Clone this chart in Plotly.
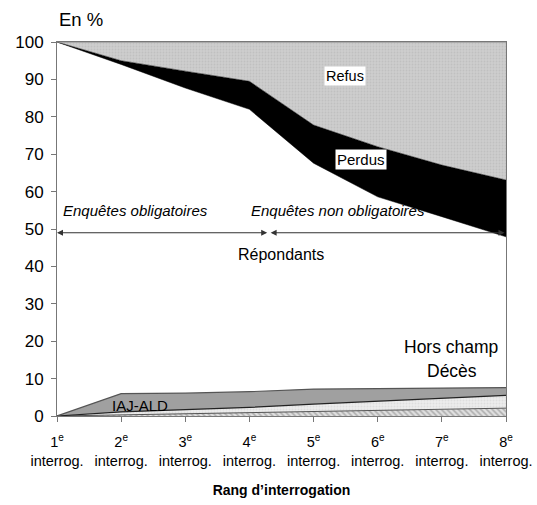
import plotly.graph_objects as go

x_vals = [1, 2, 3, 4, 5, 6, 7, 8]
x_labels = [f"{i}<sup><span style='font-size:10px'>e</span></sup><br>interrog." for i in range(1, 9)]

# cumulative boundaries (in %)
repondants_top = [100, 94, 87.7, 82, 67.6, 58.6, 53.3, 47.9]
perdus_top = [100, 95, 92.2, 89.5, 77.8, 72.0, 67.1, 63.1]
refus_top = [100, 100, 100, 100, 100, 100, 100, 100]
deces_top = [0, 0.3, 0.6, 0.9, 1.2, 1.4, 1.7, 2.1]
hors_champ_top = [0, 1.1, 1.7, 2.3, 3.2, 3.9, 4.7, 5.5]
iaj_ald_top = [0, 6.0, 6.1, 6.5, 7.2, 7.3, 7.5, 7.6]

fig = go.Figure()

# Upper block: répondants boundary, perdus, refus
fig.add_trace(go.Scatter(x=x_vals, y=repondants_top, mode="lines",
                         line=dict(color="black", width=0.5), showlegend=False, hoverinfo="skip"))
fig.add_trace(go.Scatter(x=x_vals, y=perdus_top, mode="lines", fill="tonexty",
                         fillcolor="black", line=dict(color="black", width=0.5),
                         showlegend=False, hoverinfo="skip"))
fig.add_trace(go.Scatter(x=x_vals, y=refus_top, mode="lines", fill="tonexty",
                         fillcolor="#c6c6c6",
                         fillpattern=dict(shape=".", fgcolor="#b4b4b4", bgcolor="#cdcdcd", size=3, solidity=0.3),
                         line=dict(color="#888888", width=1),
                         showlegend=False, hoverinfo="skip"))

# Lower block: décès, hors champ, IAJ-ALD
fig.add_trace(go.Scatter(x=x_vals, y=deces_top, mode="lines", fill="tozeroy",
                         fillpattern=dict(shape="\\", fgcolor="#7a7a7a", bgcolor="#e0e0e0", size=4, solidity=0.4),
                         line=dict(color="#555555", width=1),
                         showlegend=False, hoverinfo="skip"))
fig.add_trace(go.Scatter(x=x_vals, y=hors_champ_top, mode="lines", fill="tonexty",
                         fillpattern=dict(shape=".", fgcolor="#cfcfcf", bgcolor="#ececec", size=3, solidity=0.3),
                         line=dict(color="#222222", width=1.2),
                         showlegend=False, hoverinfo="skip"))
fig.add_trace(go.Scatter(x=x_vals, y=iaj_ald_top, mode="lines", fill="tonexty",
                         fillcolor="#a0a0a0", line=dict(color="#555555", width=1.2),
                         showlegend=False, hoverinfo="skip"))

font_main = "Liberation Sans, Arial, sans-serif"

annotations = [
    dict(x=0, y=1.0, xref="paper", yref="paper", text="En %", showarrow=False,
         xanchor="left", yanchor="bottom", yshift=10, font=dict(size=18.5, color="black")),
    dict(x=5.49, y=90.9, text="Refus", showarrow=False, bgcolor="white",
         font=dict(size=14.5, color="black"), borderpad=1),
    dict(x=5.74, y=68.7, text="Perdus", showarrow=False, bgcolor="white",
         font=dict(size=15, color="black"), borderpad=1),
    dict(x=1.07, y=55.0, text="<i>Enquêtes obligatoires</i>", showarrow=False,
         xanchor="left", font=dict(size=15, color="black")),
    dict(x=4.0, y=55.0, text="<i>Enquêtes non obligatoires</i>", showarrow=False,
         xanchor="left", font=dict(size=15, color="black")),
    dict(x=4.49, y=43.2, text="Répondants", showarrow=False,
         font=dict(size=16, color="black")),
    dict(x=2.3, y=2.9, text="IAJ-ALD", showarrow=False,
         font=dict(size=15, color="black")),
    dict(x=7.14, y=18.4, text="Hors champ", showarrow=False,
         font=dict(size=17.5, color="black")),
    dict(x=7.16, y=12.0, text="Décès", showarrow=False,
         font=dict(size=17.5, color="black")),
    # arrows
    dict(x=1.0, y=49, ax=4.3, ay=49, xref="x", yref="y", axref="x", ayref="y",
         text="", showarrow=True, arrowhead=2, arrowside="end+start", arrowsize=1,
         arrowwidth=1.2, arrowcolor="#333333"),
    dict(x=4.33, y=49, ax=8.0, ay=49, xref="x", yref="y", axref="x", ayref="y",
         text="", showarrow=True, arrowhead=2, arrowside="end+start", arrowsize=1,
         arrowwidth=1.2, arrowcolor="#333333"),
]

fig.update_layout(
    width=537, height=505,
    margin=dict(l=57, r=31, t=42, b=89),
    paper_bgcolor="white", plot_bgcolor="white",
    font=dict(family=font_main, color="black"),
    annotations=annotations,
    xaxis=dict(
        range=[1, 8], tickmode="array", tickvals=x_vals, ticktext=x_labels,
        automargin=False,
        showgrid=False, zeroline=False, showline=True, linecolor="#777777", linewidth=1,
        mirror=True, ticks="outside", ticklen=5, tickcolor="#777777",
        ticklabelstandoff=8,
        tickfont=dict(size=14.5, color="black"),
        title=dict(text="<b>Rang d’interrogation</b>", font=dict(size=14, color="black"), standoff=16),
    ),
    yaxis=dict(
        range=[0, 100], tickmode="array", tickvals=list(range(0, 101, 10)),
        automargin=False,
        showgrid=False, zeroline=False, showline=True, linecolor="#777777", linewidth=1,
        mirror=True, ticks="outside", ticklen=5, tickcolor="#777777",
        ticklabelstandoff=4,
        tickfont=dict(size=17, color="black"),
    ),
)

fig.write_html("out.html", config={"displayModeBar": False},
               post_script="document.body.style.margin='0px';document.body.style.padding='0px';")
